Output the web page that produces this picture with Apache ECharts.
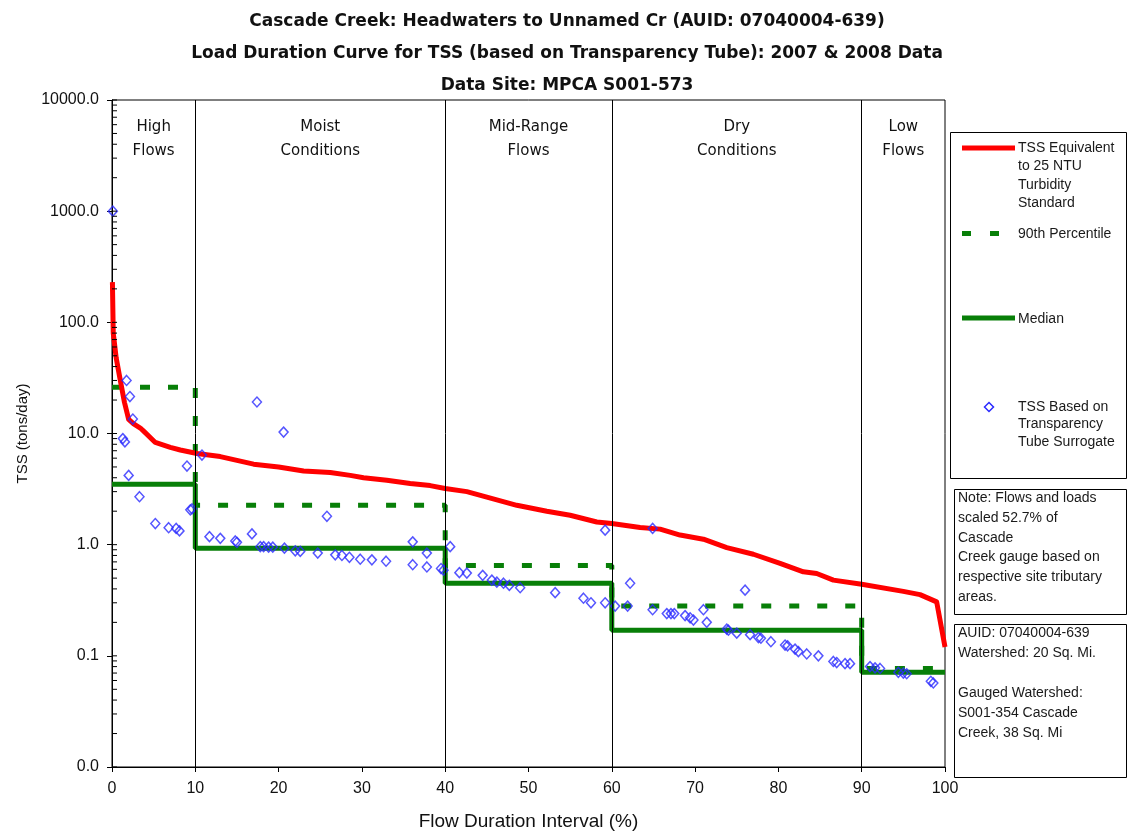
<!DOCTYPE html>
<html>
<head>
<meta charset="utf-8">
<script src="https://cdn.jsdelivr.net/npm/echarts@6/dist/echarts.min.js"></script>
<style>
  html, body { margin: 0; padding: 0; background: #fff; }
  #chart { width: 1128px; height: 836px; }
</style>
</head>
<body>
<div id="chart"></div>
<script>
// Flow regime boundaries (% of time flow is exceeded) and their names
const regionBounds = [0, 10, 40, 60, 90, 100];
const regionNames = ['High\nFlows', 'Moist\nConditions', 'Mid-Range\nFlows', 'Dry\nConditions', 'Low\nFlows'];

// Observed-load summary statistics per flow regime (tons/day)
const medianLoad = [3.5, 0.93, 0.45, 0.17, 0.071];
const pct90Load = [26, 2.26, 0.65, 0.28, 0.077];

// TSS load equivalent to the 25 NTU turbidity standard
const standardX = [0.05, 0.15, 0.5, 1.0, 1.5, 2.0, 2.6, 3.4, 3.8, 5.2, 7.0, 8.2, 10.2, 13.0, 17.0, 20.0,
  23.0, 26.2, 28.6, 30.2, 33.0, 35.8, 38.2, 40.0, 42.6, 45.0, 48.6, 52.2, 55.0, 58.2, 60.0, 63.4,
  65.8, 68.2, 71.0, 73.8, 77.0, 80.2, 83.0, 84.6, 86.6, 90.0, 95.0, 97.0, 99.0, 100];
const standardLoad = [230, 80, 48, 30, 19, 13.4, 12.2, 11.2, 10.5, 8.3, 7.5, 7.1, 6.6, 6.2, 5.3, 5.0,
  4.6, 4.45, 4.2, 4.0, 3.8, 3.55, 3.4, 3.2, 3.0, 2.68, 2.26, 2.0, 1.84, 1.6, 1.55, 1.43,
  1.38, 1.22, 1.12, 0.94, 0.82, 0.68, 0.57, 0.55, 0.48, 0.44, 0.38, 0.355, 0.306, 0.12];

// Loads estimated from transparency tube readings
const sampleX = [0.1, 1.3, 1.55, 1.75, 2.0, 2.15, 2.5, 3.3, 5.2, 6.8, 7.7, 8.1, 9.0, 9.4, 9.6, 10.8,
  11.7, 13.0, 14.8, 15.0, 16.8, 17.4, 17.8, 18.2, 18.8, 19.3, 20.6, 20.7, 22.0, 22.6, 24.7, 25.8,
  26.8, 27.6, 28.5, 29.8, 31.2, 32.9, 36.1, 36.1, 37.8, 37.8, 39.5, 39.8, 40.6, 41.7, 42.6, 44.5,
  45.6, 46.2, 47.0, 47.7, 49.0, 53.2, 56.6, 57.5, 59.2, 59.2, 60.4, 61.9, 62.2, 64.9, 64.9, 66.6,
  67.1, 67.5, 68.8, 69.4, 69.8, 71.0, 71.4, 73.8, 74.0, 75.0, 76.0, 76.6, 77.6, 77.9, 79.1, 80.8,
  81.1, 82.0, 82.4, 83.4, 84.8, 86.6, 87.0, 88.0, 88.6, 91.0, 91.6, 92.2, 94.4, 95.0, 95.4, 98.3, 98.6];
const sampleLoad = [1000, 9.0, 8.4, 30, 4.2, 21.5, 13.5, 2.7, 1.55, 1.42, 1.4, 1.33, 5.1, 2.06, 2.1, 6.4,
  1.18, 1.14, 1.08, 1.05, 1.25, 19.2, 0.96, 0.96, 0.95, 0.95, 10.3, 0.93, 0.88, 0.87, 0.84, 1.8,
  0.81, 0.80, 0.77, 0.74, 0.73, 0.71, 1.06, 0.66, 0.84, 0.63, 0.61, 0.59, 0.96, 0.56, 0.555, 0.53,
  0.48, 0.46, 0.45, 0.43, 0.41, 0.37, 0.33, 0.30, 1.35, 0.30, 0.28, 0.28, 0.45, 1.4, 0.26, 0.24,
  0.24, 0.24, 0.23, 0.22, 0.21, 0.26, 0.20, 0.174, 0.17, 0.16, 0.39, 0.155, 0.146, 0.144, 0.134, 0.125,
  0.123, 0.115, 0.109, 0.104, 0.10, 0.089, 0.087, 0.085, 0.085, 0.080, 0.078, 0.077, 0.071, 0.070, 0.069, 0.059, 0.057];

// Log-axis tick positions (decades and the 2..9 steps inside each decade)
const decadeValues = [0.01, 0.1, 1, 10, 100, 1000, 10000];
const minorSteps = [2, 3, 4, 5, 6, 7, 8, 9];

const RED = '#ff0000';
const GREEN = '#087f08';
const BLUE = '#2a2aff';
const TEXT_FONT = '"Liberation Sans", Arial, sans-serif';
const HAND_FONT = '"DejaVu Sans", sans-serif';

function stepPoints(levels) {
  const pts = [];
  levels.forEach((v, i) => {
    pts.push([regionBounds[i], v]);
    pts.push([regionBounds[i + 1], v]);
  });
  return pts;
}

const innerTicks = [];
decadeValues.forEach((d, i) => {
  innerTicks.push([0, d]);
  if (i < decadeValues.length - 1) minorSteps.forEach(m => innerTicks.push([0, d * m]));
});

const regionAreas = regionNames.map((name, i) => [
  { name: name, xAxis: regionBounds[i] },
  { xAxis: regionBounds[i + 1] }
]);

const chart = echarts.init(document.getElementById('chart'), null, { renderer: 'canvas' });

const legendTextStyle = { font: '14px ' + TEXT_FONT, fill: '#1a1a1a' };

chart.setOption({
  animation: false,
  backgroundColor: '#fff',
  title: {
    text: 'Cascade Creek: Headwaters to Unnamed Cr (AUID: 07040004-639)\nLoad Duration Curve for TSS (based on Transparency Tube): 2007 & 2008 Data\nData Site: MPCA S001-573',
    left: 562,
    textAlign: 'center',
    top: 1,
    textStyle: { fontFamily: HAND_FONT, fontSize: 17, fontWeight: 'bold', color: '#111', lineHeight: 32, align: 'center' }
  },
  grid: {
    left: 112, right: 183, top: 100, bottom: 63,
    show: true, borderColor: '#000', borderWidth: 1, backgroundColor: 'transparent'
  },
  xAxis: {
    type: 'value', min: 0, max: 100, interval: 10,
    name: 'Flow Duration Interval (%)', nameLocation: 'middle', nameGap: 45,
    nameTextStyle: { fontFamily: TEXT_FONT, fontSize: 19, color: '#111' },
    axisLine: { lineStyle: { color: '#000', width: 1 } },
    axisTick: { show: true, length: 5, lineStyle: { color: '#000' } },
    axisLabel: { fontFamily: TEXT_FONT, fontSize: 16, color: '#111', margin: 14 },
    splitLine: { show: false }
  },
  yAxis: {
    type: 'log', logBase: 10, min: 0.01, max: 10000,
    name: 'TSS (tons/day)', nameLocation: 'middle', nameGap: 72,
    nameTextStyle: { fontFamily: TEXT_FONT, fontSize: 15, color: '#111' },
    axisLine: { lineStyle: { color: '#000', width: 1 } },
    axisTick: { show: true, length: 5, lineStyle: { color: '#000' } },
    axisLabel: { fontFamily: TEXT_FONT, fontSize: 16, color: '#111', margin: 13,
      formatter: v => Number(v).toFixed(1) },
    splitLine: { show: false }
  },
  series: [
    {
      // inward tick marks along the log axis
      type: 'custom',
      silent: true,
      clip: false,
      z: 5,
      data: innerTicks,
      renderItem: (params, api) => {
        const p = api.coord([api.value(0), api.value(1)]);
        return {
          type: 'line',
          shape: { x1: p[0], y1: p[1], x2: p[0] + 5, y2: p[1] },
          style: { stroke: '#000', lineWidth: 1 }
        };
      }
    },
    {
      name: 'TSS Equivalent to 25 NTU Turbidity Standard',
      type: 'line',
      data: standardX.map((x, i) => [x, standardLoad[i]]),
      showSymbol: false,
      symbol: 'none',
      lineStyle: { color: RED, width: 5, join: 'round' },
      z: 3
    },
    {
      name: '90th Percentile',
      type: 'line',
      data: stepPoints(pct90Load),
      showSymbol: false,
      symbol: 'none',
      lineStyle: { color: GREEN, width: 5, type: [10, 18], cap: 'butt' },
      z: 2
    },
    {
      name: 'Median',
      type: 'line',
      data: stepPoints(medianLoad),
      showSymbol: false,
      symbol: 'none',
      lineStyle: { color: GREEN, width: 5, cap: 'butt' },
      z: 2,
      markLine: {
        silent: true,
        symbol: 'none',
        label: { show: false },
        lineStyle: { color: '#000', width: 1, type: 'solid' },
        data: regionBounds.slice(1, -1).map(b => ({ xAxis: b }))
      },
      markArea: {
        silent: true,
        itemStyle: { color: 'rgba(0,0,0,0)' },
        label: {
          show: true, position: 'insideTop', distance: 15,
          fontFamily: HAND_FONT, fontSize: 15, color: '#111', lineHeight: 24, align: 'center'
        },
        data: regionAreas
      }
    },
    {
      name: 'TSS Based on Transparency Tube Surrogate',
      type: 'scatter',
      data: sampleX.map((x, i) => [x, sampleLoad[i]]),
      symbol: 'diamond',
      symbolSize: [9, 10],
      itemStyle: { color: 'rgba(255,255,255,0)', borderColor: BLUE, borderWidth: 1.5 },
      z: 4
    }
  ],
  graphic: [
    // legend box
    { type: 'rect', shape: { x: 950.5, y: 132.5, width: 176, height: 346 }, style: { fill: '#fff', stroke: '#000', lineWidth: 1 } },
    { type: 'line', shape: { x1: 962, y1: 148, x2: 1015, y2: 148 }, style: { stroke: RED, lineWidth: 5 } },
    { type: 'text', x: 1018, y: 139, style: Object.assign({ text: 'TSS Equivalent\nto 25 NTU\nTurbidity\nStandard', lineHeight: 18.3 }, legendTextStyle) },
    { type: 'line', shape: { x1: 962, y1: 233.5, x2: 1015, y2: 233.5 }, style: { stroke: GREEN, lineWidth: 5, lineDash: [9, 19] } },
    { type: 'text', x: 1018, y: 225, style: Object.assign({ text: '90th Percentile', lineHeight: 18 }, legendTextStyle) },
    { type: 'line', shape: { x1: 962, y1: 318, x2: 1015, y2: 318 }, style: { stroke: GREEN, lineWidth: 5 } },
    { type: 'text', x: 1018, y: 310, style: Object.assign({ text: 'Median', lineHeight: 18 }, legendTextStyle) },
    { type: 'polygon', shape: { points: [[989, 402.5], [993.5, 407], [989, 411.5], [984.5, 407]] }, style: { fill: 'rgba(0,0,0,0)', stroke: BLUE, lineWidth: 1.5 } },
    { type: 'text', x: 1018, y: 398, style: Object.assign({ text: 'TSS Based on\nTransparency\nTube Surrogate', lineHeight: 17.5 }, legendTextStyle) },
    // note boxes
    { type: 'rect', shape: { x: 954.5, y: 489.5, width: 172, height: 125 }, style: { fill: '#fff', stroke: '#000', lineWidth: 1 } },
    { type: 'text', x: 958, y: 488.5, style: Object.assign({ text: 'Note: Flows and loads\nscaled 52.7% of\nCascade\nCreek gauge based on\nrespective site tributary\nareas.', lineHeight: 19.7 }, legendTextStyle) },
    { type: 'rect', shape: { x: 954.5, y: 624.5, width: 172, height: 153 }, style: { fill: '#fff', stroke: '#000', lineWidth: 1 } },
    { type: 'text', x: 958, y: 623.5, style: Object.assign({ text: 'AUID: 07040004-639\nWatershed: 20 Sq. Mi.\n\nGauged Watershed:\nS001-354 Cascade\nCreek, 38 Sq. Mi', lineHeight: 20 }, legendTextStyle) }
  ]
});
</script>
</body>
</html>
